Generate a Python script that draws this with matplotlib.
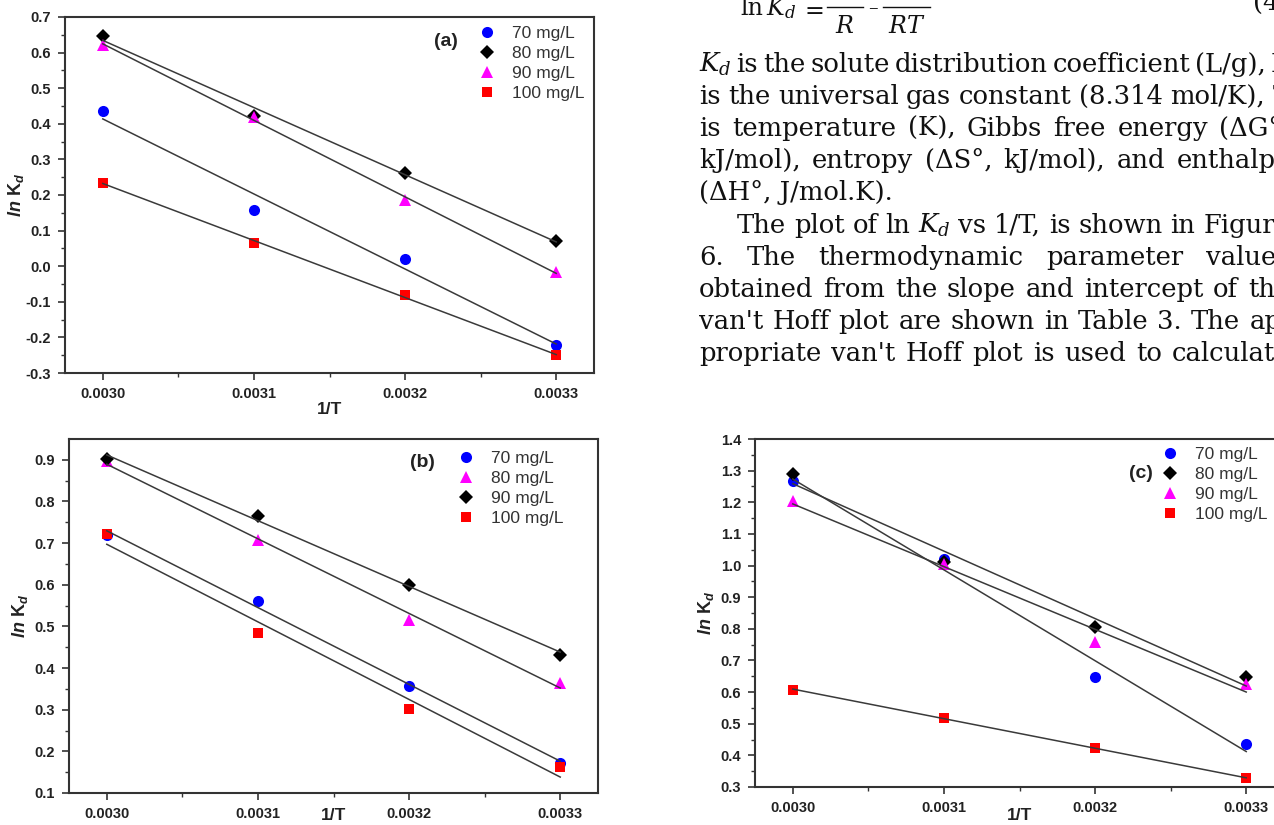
import numpy as np
import matplotlib
matplotlib.use('Agg')
import matplotlib.pyplot as plt
from matplotlib.ticker import FixedLocator, FuncFormatter
from matplotlib.lines import Line2D

# ---------------- data ----------------
inv_T = [0.0030, 0.0031, 0.0032, 0.0033]
xtick_labels = ['0.0030', '0.0031', '0.0032', '0.0033']
conc_labels = ['70 mg/L', '80 mg/L', '90 mg/L', '100 mg/L']

a_70 = [0.435, 0.157, 0.020, -0.222]
a_80 = [0.648, 0.422, 0.263, 0.072]
a_90 = [0.622, 0.418, 0.186, -0.017]
a_100 = [0.235, 0.065, -0.082, -0.250]

b_70 = [0.720, 0.561, 0.358, 0.173]
b_80 = [0.897, 0.707, 0.515, 0.364]
b_90 = [0.903, 0.765, 0.600, 0.432]
b_100 = [0.722, 0.485, 0.302, 0.162]

c_70 = [1.268, 1.020, 0.648, 0.435]
c_80 = [1.290, 1.012, 0.806, 0.648]
c_90 = [1.203, 1.005, 0.757, 0.625]
c_100 = [0.608, 0.518, 0.423, 0.328]

page_lines = [
    "$K_d$ is the solute distribution coefficient (L/g), R",
    "is the universal gas constant (8.314 mol/K), T",
    "is temperature (K), Gibbs free energy (\u0394G\u00b0,",
    "kJ/mol), entropy (\u0394S\u00b0, kJ/mol), and enthalpy",
    "(\u0394H\u00b0, J/mol.K).",
    "The plot of ln $K_d$ vs 1/T, is shown in Figure",
    "6. The thermodynamic parameter values",
    "obtained from the slope and intercept of the",
    "van't Hoff plot are shown in Table 3. The ap-",
    "propriate van't Hoff plot is used to calculate",
]
page_justify = [True, True, True, True, False, True, True, True, True, True]

# ---------------- style ----------------
plt.rcParams['axes.unicode_minus'] = False
plt.rcParams['mathtext.fontset'] = 'custom'
plt.rcParams['mathtext.rm'] = 'Liberation Sans:bold'
plt.rcParams['mathtext.it'] = 'Liberation Sans:italic:bold'
plt.rcParams['mathtext.bf'] = 'Liberation Sans:bold'

BLUE, BLACK, MAG, RED = '#0000FF', '#000000', '#FF00FF', '#FF0000'
LINEC = '#3a3a3a'
SPINEC = '#333333'
W, H = 1274, 825

fig = plt.figure(figsize=(W / 100, H / 100), dpi=100)
fig.patch.set_facecolor('white')


def add_axes(l, t, r, b):
    return fig.add_axes([l / W, 1 - b / H, (r - l) / W, (b - t) / H])


mk = {'o': 8.0, 'D': 7.4, '^': 8.5, 's': 6.6}
LEG_FS = 12.5

panels = [
    dict(box=(65, 17, 594, 373), ylim=(-0.3, 0.7), ymaj=[-0.3 + 0.1 * i for i in range(11)],
         series=[(a_70, 'o', BLUE), (a_80, 'D', BLACK), (a_90, '^', MAG), (a_100, 's', RED)],
         tag='(a)', tag_xy=(458, 42), leg_xy=(478, 26), xlab_y=410),
    dict(box=(69, 439, 598, 793), ylim=(0.1, 0.95), ymaj=[0.1 + 0.1 * i for i in range(9)],
         series=[(b_70, 'o', BLUE), (b_80, '^', MAG), (b_90, 'D', BLACK), (b_100, 's', RED)],
         tag='(b)', tag_xy=(435, 463), leg_xy=(457, 451), xlab_y=816),
    dict(box=(755, 439, 1284, 787), ylim=(0.3, 1.4), ymaj=[0.3 + 0.1 * i for i in range(12)],
         series=[(c_70, 'o', BLUE), (c_80, 'D', BLACK), (c_90, '^', MAG), (c_100, 's', RED)],
         tag='(c)', tag_xy=(1153, 473), leg_xy=(1161, 447), xlab_y=816),
]

for p in panels:
    ax = add_axes(*p['box'])
    ax.set_xlim(0.002975, 0.003325)
    ax.set_ylim(*p['ylim'])
    handles = []
    for (vals, m, col), lab in zip(p['series'], conc_labels):
        h, = ax.plot(inv_T, vals, linestyle='none', marker=m, ms=mk[m], color=col,
                     markeredgewidth=0, zorder=2, label=lab)
        handles.append(h)
        coef = np.polyfit(inv_T, vals, 1)
        ax.plot(inv_T, np.polyval(coef, inv_T), color=LINEC, lw=1.1, zorder=3)
    ax.xaxis.set_major_locator(FixedLocator(inv_T))
    ax.xaxis.set_minor_locator(FixedLocator([0.00305, 0.00315, 0.00325]))
    ax.set_xticklabels(xtick_labels)
    ymaj = [round(v, 2) for v in p['ymaj']]
    ax.yaxis.set_major_locator(FixedLocator(ymaj))
    ax.yaxis.set_minor_locator(FixedLocator([round(v + 0.05, 3) for v in ymaj[:-1]]))
    ax.yaxis.set_major_formatter(FuncFormatter(lambda v, pos: f"{v:.1f}".replace('-0.0', '0.0')))
    ax.tick_params(axis='both', which='major', direction='out', length=5, width=1.2,
                   color=SPINEC, labelsize=10.5, labelcolor='#222222', pad=5)
    ax.tick_params(axis='both', which='minor', direction='out', length=3, width=1.0, color=SPINEC)
    ax.tick_params(top=False, right=False, which='both')
    for lbl in ax.get_xticklabels() + ax.get_yticklabels():
        lbl.set_fontfamily('Liberation Sans')
        lbl.set_fontweight('bold')
    for s in ax.spines.values():
        s.set_color(SPINEC)
        s.set_linewidth(1.5)
    ax.set_ylabel(r'$\mathit{ln}\ \mathrm{K}_{\mathit{d}}$', fontsize=13, color='#222222')
    ax.yaxis.set_label_coords(-0.092, 0.5)
    ax.yaxis.label.set_va('center')
    ax.set_xlabel('1/T', fontsize=12.5, fontweight='bold', family='Liberation Sans', color='#222222')
    ax.xaxis.set_label_coords(0.5, 1 - (p['xlab_y'] - p['box'][1]) / (p['box'][3] - p['box'][1]))
    ax.xaxis.label.set_va('center')
    leg = ax.legend(handles=handles, loc='upper left',
                    bbox_to_anchor=(p['leg_xy'][0] / W, 1 - p['leg_xy'][1] / H),
                    bbox_transform=fig.transFigure, frameon=False, borderpad=0, borderaxespad=0,
                    handlelength=1.0, handletextpad=0.95, labelspacing=0.27,
                    prop={'family': 'Liberation Sans', 'size': LEG_FS})
    for t in leg.get_texts():
        t.set_color('#333333')
    fig.text(p['tag_xy'][0] / W, 1 - p['tag_xy'][1] / H, p['tag'], ha='right', va='center',
             fontsize=14, fontweight='bold', family='Liberation Sans', color='#222222')

# ---------------- page text ----------------
renderer = fig.canvas.get_renderer()
serif = dict(family='DejaVu Serif', color='#111111', math_fontfamily='dejavuserif')


def text_w(s, fs):
    t = fig.text(0, 0, s, fontsize=fs, **serif)
    w = t.get_window_extent(renderer).width
    t.remove()
    return w


L_EDGE, R_EDGE = 699, 1290
fs_ref = 10.0
FS = fs_ref * 585.0 / text_w(page_lines[8], fs_ref)

baselines = [72, 104, 136, 168, 200, 233, 265, 297, 329, 361]
for i, (line, just, yb) in enumerate(zip(page_lines, page_justify, baselines)):
    x0 = L_EDGE + (38 if i == 5 else 0)
    if not just:
        fig.text(x0 / W, 1 - yb / H, line, fontsize=FS, va='baseline', ha='left', **serif)
        continue
    words = line.split(' ')
    ws = [text_w(w, FS) for w in words]
    gap = (R_EDGE - x0 - sum(ws)) / (len(words) - 1)
    x = x0
    for w, wd in zip(words, ws):
        fig.text(x / W, 1 - yb / H, w, fontsize=FS, va='baseline', ha='left', **serif)
        x += wd + gap

# equation (4): ln K_d = (dS)/R - (dH)/(RT); numerators lie above the cropped page edge
EFS = FS * 0.92
fig.text(740 / W, 1 - 15 / H, 'ln', fontsize=EFS, va='baseline', ha='left', **serif)
fig.text(766 / W, 1 - 15 / H, '$K_{d}$', fontsize=EFS, va='baseline', ha='left', **serif)
fig.text(814 / W, 1 - 11 / H, '=', fontsize=EFS, va='center', ha='center', **serif)
fig.text(873 / W, 1 - 8 / H, '\u2013', fontsize=EFS * 0.8, va='center', ha='center', **serif)
fig.text(845 / W, 1 - 33 / H, '$R$', fontsize=EFS, va='baseline', ha='center', **serif)
fig.text(907 / W, 1 - 33 / H, '$RT$', fontsize=EFS, va='baseline', ha='center', **serif)
fig.text(1253 / W, 1 - 10 / H, '(4)', fontsize=FS, va='baseline', ha='left', **serif)
for xa, xb in [(827, 863), (883, 930)]:
    fig.add_artist(Line2D([xa / W, xb / W], [1 - 7 / H, 1 - 7 / H], transform=fig.transFigure,
                          color='#111111', lw=1.0))

fig.savefig('out.png', dpi=100, facecolor='white')
